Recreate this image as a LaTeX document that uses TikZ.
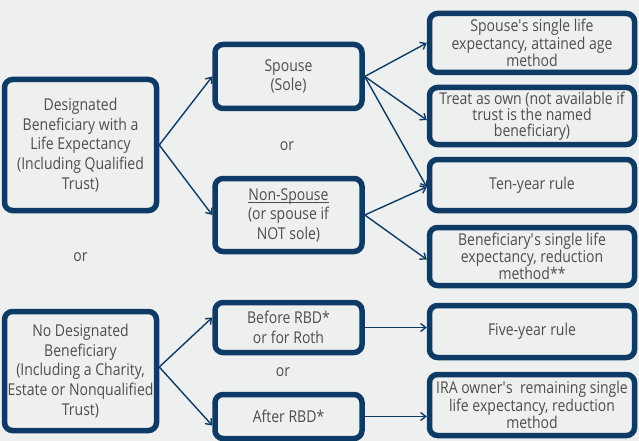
\documentclass[tikz,border=0pt]{standalone}
\usepackage{fontspec}
\setmainfont{Open Sans}[FakeStretch=0.86]
\usepackage{tikz}
\usetikzlibrary{arrows.meta}
\definecolor{navy}{HTML}{0D3B66}
\definecolor{txtgray}{HTML}{4D4D4D}
\definecolor{bggray}{HTML}{EEF0F0}
\newcommand{\ulword}[1]{\vtop{\hbox{#1}\kern-1.5pt\hrule height 0.9pt}}

\begin{document}
\begin{tikzpicture}[x=1pt, y=-1pt,
        font=\fontsize{16.3}{19.6}\selectfont, text=txtgray,
        box/.style={draw=navy, line width=5.5pt, rounded corners=8pt, fill=bggray,
            align=center, inner sep=0pt},
        leftbox/.style={box, minimum width=152pt},
        midbox/.style={box, minimum width=147pt},
        rulebox/.style={box, minimum width=205pt, font=\fontsize{16.3}{16}\selectfont},
        link/.style={draw=navy, line width=1.4pt, -{Straight Barb[length=5pt, width=8pt]}}]
        \pgfmathsetmacro{\leftX}{80.5}
        \pgfmathsetmacro{\midX}{288.5}
        \pgfmathsetmacro{\rightX}{532}

        \fill[bggray] (0, 0) rectangle (639, 441);
        \useasboundingbox (0, 0) rectangle (639, 441);

        \node[leftbox, minimum height=131pt] (desig) at (\leftX, 145)
            {Designated\\Beneficiary with a\\Life Expectancy\\(Including Qualified\\Trust)};
        \node[leftbox, minimum height=119pt] (nodesig) at (\leftX, 371)
            {No Designated\\Beneficiary\\(Including a Charity,\\Estate or Nonqualified\\Trust)};
        \node (orleft) at (\leftX, 257) {or};

        \node[midbox, minimum height=64pt] (spouse) at (\midX, 76.5) {Spouse\\(Sole)};
        \node[midbox, minimum height=73pt] (nonspouse) at (\midX, 215)
            {\ulword{Non-Spouse}\\(or spouse if\\NOT sole)};
        \node (orupper) at (287, 146) {or};
        \node[midbox, minimum height=50pt] (before) at (\midX, 327.5) {Before RBD*\\or for Roth};
        \node[midbox, minimum height=44pt] (after) at (\midX, 416.5) {After RBD*};
        \node (orlower) at (283, 372) {or};

        \node[rulebox, minimum height=59pt] (attained) at (\rightX, 43)
            {Spouse\textquotesingle s single life\\expectancy, attained age\\method};
        \node[rulebox, minimum height=57pt] (own) at (\rightX, 116)
            {Treat as own (not available if\\trust is the named\\beneficiary)};
        \node[rulebox, minimum height=51pt] (tenyear) at (\rightX, 185) {Ten-year rule};
        \node[rulebox, minimum height=58pt] (reduction) at (\rightX, 256.5)
            {Beneficiary\textquotesingle s single life\\expectancy, reduction\\method**};
        \node[rulebox, minimum height=52pt] (fiveyear) at (\rightX, 331.5) {Five-year rule};
        \node[rulebox, minimum height=61pt] (owner) at (\rightX, 405)
            {IRA owner\textquotesingle s\ \ remaining single\\life expectancy, reduction\\method};

        \draw[link] (desig.east) -- (spouse.west);
        \draw[link] (desig.east) -- (nonspouse.west);
        \draw[link] (spouse.east) -- (attained.west);
        \draw[link] (spouse.east) -- ([yshift=-4pt]own.west);
        \draw[link] (spouse.east) -- ([yshift=-2pt]tenyear.west);
        \draw[link] (nonspouse.east) -- ([yshift=-2pt]tenyear.west);
        \draw[link] (nonspouse.east) -- ([yshift=-3pt]reduction.west);
        \draw[link] ([yshift=4pt]nodesig.east) -- ([yshift=10pt]before.west);
        \draw[link] ([yshift=4pt]nodesig.east) -- ([yshift=-9pt]after.west);
        \draw[link] (before.east) -- (before.east -| fiveyear.west);
        \draw[link] (after.east) -- (after.east -| owner.west);
    \end{tikzpicture}
\end{document}
